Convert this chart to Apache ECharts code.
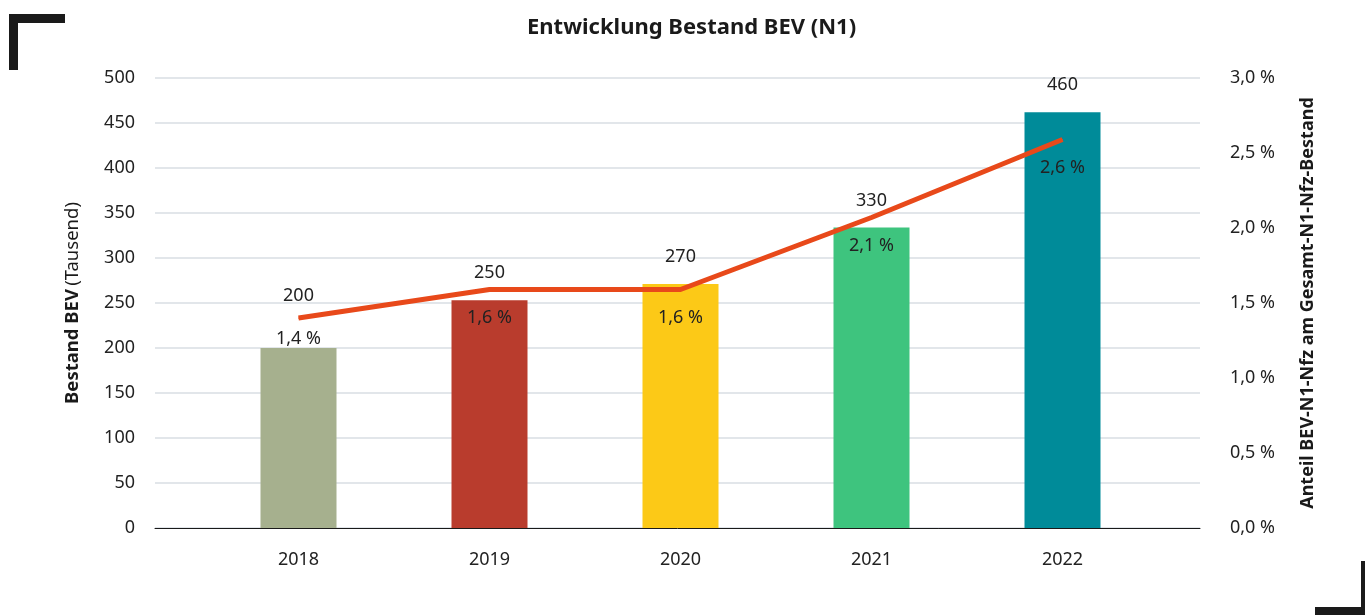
<!DOCTYPE html>
<html>
<head>
<meta charset="utf-8">
<script src="https://cdn.jsdelivr.net/npm/echarts@6/dist/echarts.min.js"></script>
<style>
  html, body { margin: 0; padding: 0; background: #fff; }
  #chart { width: 1365px; height: 615px; }
</style>
</head>
<body>
<div id="chart"></div>
<script>
// data
const years = ['2018', '2019', '2020', '2021', '2022']
const bestand = [200, 253, 271, 334, 462]
const bestandLabels = ['200', '250', '270', '330', '460']
const anteil = [1.4, 1.59, 1.59, 2.07, 2.59]
const anteilLabels = ['1,4 %', '1,6 %', '1,6 %', '2,1 %', '2,6 %']
const barColors = ['#a6b08e', '#b93c2d', '#fcc917', '#3ec47e', '#008b99']

const font = '"Noto Sans", sans-serif'
const chart = echarts.init(document.getElementById('chart'))

const option = {
  textStyle: { fontFamily: font },
  title: {
    text: 'Entwicklung Bestand BEV (N1)',
    left: 522,
    top: 12,
    textStyle: { fontFamily: font, fontSize: 22, fontWeight: 'bold', color: '#1a1a1a' }
  },
  graphic: [
    { type: 'rect', shape: { x: 9, y: 14, width: 56, height: 9 }, style: { fill: '#1a1a1a' } },
    { type: 'rect', shape: { x: 9, y: 14, width: 9, height: 56 }, style: { fill: '#1a1a1a' } },
    { type: 'rect', shape: { x: 1315, y: 607, width: 55, height: 10 }, style: { fill: '#1a1a1a' } },
    { type: 'rect', shape: { x: 1361, y: 561, width: 10, height: 56 }, style: { fill: '#1a1a1a' } }
  ],
  grid: [
    { left: 155, right: 165, top: 78, bottom: 87 },
    { left: 203, right: 207, top: 78, bottom: 87 }
  ],
  xAxis: [
    {
      type: 'category', gridIndex: 0, data: years,
      axisLabel: { show: false }, axisTick: { show: false },
      axisLine: { lineStyle: { color: '#1a1a1a', width: 1 } }
    },
    {
      type: 'category', gridIndex: 1, data: years,
      axisLine: { show: false }, axisTick: { show: false },
      axisLabel: { margin: 23, fontSize: 18, color: '#222', fontFamily: font }
    }
  ],
  yAxis: [
    {
      type: 'value', gridIndex: 0, position: 'left', min: 0, max: 500, interval: 50,
      axisLabel: { margin: 20, fontSize: 18, color: '#222', fontFamily: font },
      splitLine: { lineStyle: { color: '#d9dee3', width: 1.5 } },
      name: '{b|Bestand BEV} {n|(Tausend)}',
      nameLocation: 'middle', nameRotate: 90, nameGap: 73,
      nameTextStyle: {
        rich: {
          b: { fontSize: 18.5, fontWeight: 'bold', color: '#1a1a1a', fontFamily: font },
          n: { fontSize: 18.5, color: '#1a1a1a', fontFamily: font }
        }
      }
    },
    {
      type: 'value', gridIndex: 0, position: 'right', min: 0, max: 3, interval: 0.5,
      axisLabel: {
        margin: 30, fontSize: 18, color: '#222', fontFamily: font,
        formatter: v => v.toFixed(1).replace('.', ',') + ' %'
      },
      splitLine: { show: false },
      name: 'Anteil BEV-N1-Nfz am Gesamt-N1-Nfz-Bestand',
      nameLocation: 'middle', nameRotate: 90, nameGap: 99,
      nameTextStyle: { fontSize: 18, fontWeight: 'bold', color: '#1a1a1a', fontFamily: font }
    },
    { type: 'value', gridIndex: 1, min: 0, max: 500, show: false },
    { type: 'value', gridIndex: 1, min: 0, max: 3, show: false }
  ],
  series: [
    {
      type: 'bar',
      xAxisIndex: 1,
      yAxisIndex: 2,
      barWidth: 76,
      data: bestand.map((v, i) => ({
        value: v,
        itemStyle: { color: barColors[i] },
        label: i === 0 ? { offset: [0, -25] } : {}
      })),
      label: {
        show: true, position: 'top', distance: 18,
        fontSize: 18, color: '#222', fontFamily: font,
        formatter: p => bestandLabels[p.dataIndex]
      }
    },
    {
      type: 'line',
      xAxisIndex: 1,
      yAxisIndex: 3,
      data: anteil.map((v, i) => ({
        value: v,
        label: i === 0 ? { distance: 11 } : {}
      })),
      symbol: 'circle',
      symbolSize: 1,
      itemStyle: { color: '#e8491a' },
      lineStyle: { color: '#e8491a', width: 5 },
      z: 5,
      label: {
        show: true, position: 'bottom', distance: 19,
        fontSize: 18, color: '#222', fontFamily: font,
        formatter: p => anteilLabels[p.dataIndex]
      }
    }
  ]
}

chart.setOption(option)
</script>
</body>
</html>
